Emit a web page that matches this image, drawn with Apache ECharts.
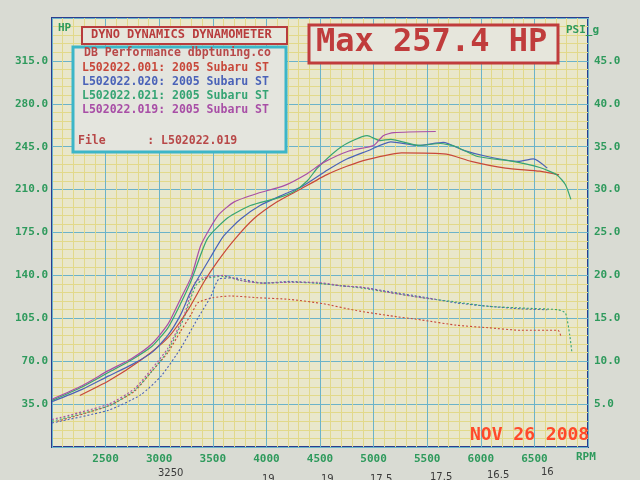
<!DOCTYPE html>
<html><head><meta charset="utf-8">
<script src="https://cdn.jsdelivr.net/npm/echarts@6/dist/echarts.min.js"></script>
<style>html,body{margin:0;padding:0;background:#d9dbd3}#c{width:640px;height:480px}</style>
</head><body><div id="c"></div>
<script>
// ---- Power (HP) curves ----
const redRpm = [2260, 2530, 2830, 3080, 3270, 3420, 3550, 3700, 3880, 4100, 4290, 4560, 4750, 4940, 5260, 5680, 5910, 6230, 6550, 6730];
const redHp = [42, 54, 71, 89, 112, 135, 152, 169, 186, 200, 209, 222, 229, 234.5, 240, 239, 233, 227.5, 225, 222];
const blueRpm = [2000, 2280, 2530, 2740, 2930, 3080, 3200, 3300, 3480, 3600, 3760, 3940, 4160, 4340, 4570, 4750, 4940, 5160, 5420, 5650, 5840, 6060, 6350, 6490, 6620];
const blueHp = [37, 47, 58, 67, 77, 91, 108, 128, 155, 172, 186, 197, 206, 213, 226, 235, 241.5, 249, 246, 248.5, 242, 237, 233, 235, 227.5];
const greenRpm = [2000, 2280, 2530, 2740, 2930, 3080, 3200, 3300, 3450, 3640, 3850, 4100, 4250, 4380, 4480, 4700, 4940, 5060, 5160, 5420, 5620, 5770, 5970, 6300, 6550, 6710, 6790, 6840];
const greenHp = [38, 49, 61, 71, 82, 97, 117, 136, 170, 187, 197, 203, 208, 217, 228, 245, 254, 250, 251, 246, 247.6, 245, 237, 233, 228, 222, 214, 202];
const purpleRpm = [2000, 2280, 2530, 2740, 2930, 3080, 3200, 3300, 3390, 3550, 3700, 3920, 4160, 4380, 4530, 4770, 5000, 5090, 5190, 5580];
const purpleHp = [39, 50, 62.5, 72, 84, 100, 121, 139, 165, 189, 200, 207, 213, 223, 232, 241.5, 246, 254, 256.5, 257.4];

// ---- Boost (PSI_g) curves ----
const redBoostRpm = [2050, 2530, 2770, 2930, 3080, 3200, 3300, 3360, 3500, 3670, 3920, 4220, 4530, 4840, 5150, 5450, 5770, 6070, 6380, 6720, 6750];
const redBoost = [3.0, 4.8, 6.5, 8.8, 11.0, 13.5, 15.5, 16.8, 17.4, 17.6, 17.4, 17.2, 16.7, 15.9, 15.3, 14.8, 14.2, 13.9, 13.6, 13.6, 12.8];
const blueBoostRpm = [2000, 2530, 2830, 3020, 3200, 3360, 3480, 3560, 3700, 3970, 4220, 4470, 4690, 4900, 5150, 5450, 5770, 6070, 6380, 6620];
const blueBoost = [2.8, 4.3, 6.1, 8.3, 11.5, 15.0, 17.5, 19.6, 19.7, 19.1, 19.3, 19.1, 18.8, 18.6, 18.1, 17.5, 16.8, 16.4, 16.1, 16.0];
const greenBoostRpm = [2000, 2530, 2770, 2930, 3080, 3230, 3340, 3420, 3600, 3760, 3970, 4220, 4470, 4690, 4900, 5150, 5450, 5770, 6070, 6380, 6720, 6790, 6830, 6850];
const greenBoost = [3.0, 4.8, 6.6, 8.8, 11.2, 15.0, 18.8, 19.6, 19.9, 19.4, 19.1, 19.2, 19.1, 18.8, 18.5, 18.0, 17.4, 16.9, 16.4, 16.2, 16.0, 15.6, 13.0, 11.0];
const purpleBoostRpm = [2000, 2530, 2770, 2930, 3080, 3230, 3330, 3400, 3600, 3760, 3970, 4220, 4470, 4690, 4900, 5150, 5450, 5580];
const purpleBoost = [3.2, 5.0, 6.8, 9.1, 11.5, 15.3, 19.1, 19.7, 20.0, 19.4, 19.1, 19.2, 19.2, 18.8, 18.6, 18.0, 17.4, 17.2];

// ---- Legend / text ----
const legendLines = ['L502022.001: 2005 Subaru ST', 'L502022.020: 2005 Subaru ST', 'L502022.021: 2005 Subaru ST', 'L502022.019: 2005 Subaru ST'];
const handNotes = ['3250', '19', '19', '17.5', '17.5', '16.5', '16'];

const C = { red: '#c8483a', blue: '#4a62b8', green: '#35a474', purple: '#a84ea6' };
const zip = (a, b) => a.map((v, i) => [v, b[i]]);
const mono = '"DejaVu Sans Mono", "Liberation Mono", monospace';
const axisGreen = '#2e9a5c';

function powerSeries(name, rpm, hp, color) {
  return { name, type: 'line', yAxisIndex: 0, data: zip(rpm, hp), showSymbol: false, smooth: 0.2,
    lineStyle: { color, width: 1.2 }, z: 3 };
}
function boostSeries(name, rpm, psi, color) {
  return { name, type: 'line', yAxisIndex: 1, data: zip(rpm, psi), showSymbol: false, smooth: 0.2,
    lineStyle: { color, width: 1.1, type: [2, 2] }, z: 3 };
}

const chart = echarts.init(document.getElementById('c'), null, { renderer: 'canvas' });
const legendColors = [C.red, C.blue, C.green, C.purple];
const noteX = [158, 262, 321, 370, 430, 487, 541];
const noteY = [468, 474, 474, 474, 472, 470, 467];

chart.setOption({
  backgroundColor: '#d9dbd3',
  animation: false,
  grid: { left: 52, right: 52, top: 18, bottom: 33, show: true, backgroundColor: '#e9e7cb',
    borderColor: '#2b3d8f', borderWidth: 2 },
  xAxis: {
    type: 'value', min: 2000, max: 7000, interval: 500,
    axisLine: { show: false }, axisTick: { show: false },
    axisLabel: { color: axisGreen, fontFamily: mono, fontWeight: 'bold', fontSize: 11, margin: 7,
      formatter: v => (v === 2000 || v === 7000) ? '' : String(v) },
    splitLine: { show: true, lineStyle: { color: '#6bb3c9', width: 1 } },
    minorTick: { show: false, splitNumber: 5 },
    minorSplitLine: { show: true, lineStyle: { color: '#e2d98a', width: 1 } }
  },
  yAxis: [
    { type: 'value', min: 0, max: 350, interval: 35, position: 'left',
      axisLine: { show: false }, axisTick: { show: false },
      axisLabel: { color: axisGreen, fontFamily: mono, fontWeight: 'bold', fontSize: 11, margin: 4,
        formatter: v => (v === 0 || v === 350) ? '' : v.toFixed(1) },
      splitLine: { show: true, lineStyle: { color: '#6bb3c9', width: 1 } },
      minorTick: { show: false, splitNumber: 5 },
      minorSplitLine: { show: true, lineStyle: { color: '#e2d98a', width: 1 } } },
    { type: 'value', min: 0, max: 50, interval: 5, position: 'right',
      axisLine: { show: false }, axisTick: { show: false },
      axisLabel: { color: axisGreen, fontFamily: mono, fontWeight: 'bold', fontSize: 11, margin: 6,
        formatter: v => (v === 0 || v === 50) ? '' : v.toFixed(1) },
      splitLine: { show: false } }
  ],
  series: [
    boostSeries('001 boost', redBoostRpm, redBoost, C.red),
    boostSeries('020 boost', blueBoostRpm, blueBoost, C.blue),
    boostSeries('021 boost', greenBoostRpm, greenBoost, C.green),
    boostSeries('019 boost', purpleBoostRpm, purpleBoost, C.purple),
    powerSeries('001', redRpm, redHp, C.red),
    powerSeries('020', blueRpm, blueHp, C.blue),
    powerSeries('021', greenRpm, greenHp, C.green),
    powerSeries('019', purpleRpm, purpleHp, C.purple)
  ],
  graphic: [
    { type: 'text', left: 58, top: 23, z: 10, style: { text: 'HP', fill: axisGreen, font: 'bold 11px ' + mono } },
    { type: 'text', left: 566, top: 25, z: 10, style: { text: 'PSI_g', fill: axisGreen, font: 'bold 11px ' + mono } },
    { type: 'text', left: 576, top: 452, z: 10, style: { text: 'RPM', fill: axisGreen, font: 'bold 11px ' + mono } },
    // title box
    { type: 'rect', shape: { x: 82, y: 27, width: 205, height: 17 }, z: 10,
      style: { fill: '#e6e6dc', stroke: '#b83c3c', lineWidth: 2 } },
    { type: 'text', left: 91, top: 29, z: 11, style: { text: 'DYNO DYNAMICS DYNAMOMETER', fill: '#b83c3c', font: 'bold 12px ' + mono } },
    // legend box
    { type: 'rect', shape: { x: 73, y: 47, width: 213, height: 105 }, z: 10,
      style: { fill: '#e4e5de', stroke: '#3cb6c8', lineWidth: 3 } },
    { type: 'text', left: 84, top: 47, z: 11, style: { text: 'DB Performance dbptuning.co', fill: '#b84848', font: 'bold 11.5px ' + mono } },
    ...legendLines.map((t, i) => ({ type: 'text', left: 82, top: 62 + i * 14, z: 11,
      style: { text: t, fill: legendColors[i], font: 'bold 11.5px ' + mono } })),
    { type: 'text', left: 78, top: 135, z: 11, style: { text: 'File      : L502022.019', fill: '#b84848', font: 'bold 11.5px ' + mono } },
    // max box
    { type: 'rect', shape: { x: 309, y: 25, width: 249, height: 38 }, z: 10,
      style: { fill: '#e6e6dc', stroke: '#c03c3c', lineWidth: 3 } },
    { type: 'text', left: 316, top: 27, z: 11, style: { text: 'Max 257.4 HP', fill: '#c03c3c', font: 'bold 32px ' + mono } },
    // date stamp
    { type: 'text', left: 470, top: 426, z: 12, style: { text: 'NOV 26 2008', fill: '#ff4a2a', font: 'bold 18px ' + mono } },
    // handwritten notes
    ...handNotes.map((t, i) => ({ type: 'text', left: noteX[i], top: noteY[i], z: 12,
      style: { text: t, fill: '#3a3a3a', font: '10px "DejaVu Sans"' } }))
  ]
});
</script></body></html>
